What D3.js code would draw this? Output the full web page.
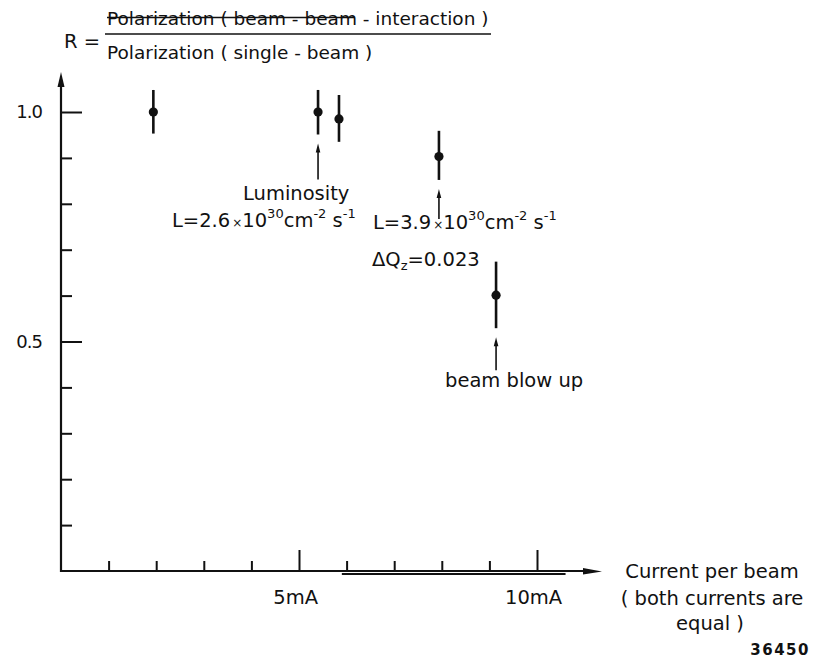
<!DOCTYPE html>
<html>
<head>
<meta charset="utf-8">
<script src="https://cdn.jsdelivr.net/npm/d3@7"></script>
<style>
  html, body { margin: 0; padding: 0; background: #fff; }
  svg { display: block; }
  text { font-family: "DejaVu Sans", sans-serif; fill: #111; }
</style>
</head>
<body>
<svg id="chart" width="815" height="665"></svg>
<script>
// Beam current per beam (mA) for each measurement
const current = [1.94, 5.40, 5.84, 7.94, 9.14];
// Polarization ratio R and its error range
const ratio   = [1.000, 1.000, 0.985, 0.903, 0.601];
const errLow  = [0.953, 0.951, 0.935, 0.852, 0.529];
const errHigh = [1.048, 1.048, 1.037, 0.959, 0.674];

// Axis ticks
const yMinorTicks = [0.1, 0.2, 0.3, 0.4, 0.6, 0.7, 0.8, 0.9];
const yMajorTicks = [0.5, 1.0];
const yTickLabels = ["0.5", "1.0"];
const xMinorTicks = [1, 2, 3, 4, 6, 7, 8, 9];
const xMajorTicks = [5, 10];
const xTickLabels = ["5mA", "10mA"];

const svg = d3.select("#chart");
const ink = "#111";

const x = d3.scaleLinear().domain([0, 10]).range([61, 537]);
const y = d3.scaleLinear().domain([0, 1]).range([571, 112]);

// ---- formula heading ----
const head = svg.append("g").attr("font-size", 18.5);
head.append("text").attr("x", 64).attr("y", 48).attr("font-size", 19.5).text("R =");
head.append("text").attr("x", 107).attr("y", 25)
  .text("Polarization ( beam - beam - interaction )");
head.append("text").attr("x", 107).attr("y", 59)
  .text("Polarization ( single - beam )");
head.append("line").attr("x1", 105).attr("x2", 491).attr("y1", 34).attr("y2", 34)
  .attr("stroke", ink).attr("stroke-width", 1.6);
head.append("line").attr("x1", 107).attr("x2", 354).attr("y1", 17.5).attr("y2", 17.5)
  .attr("stroke", ink).attr("stroke-width", 1.5);

// ---- y axis ----
const yTop = 72;
svg.append("line").attr("x1", x(0)).attr("x2", x(0)).attr("y1", y(0) + 1).attr("y2", yTop + 10)
  .attr("stroke", ink).attr("stroke-width", 2.2);
svg.append("path")
  .attr("d", `M${x(0)},${yTop} L${x(0) - 3.5},${yTop + 15} L${x(0) + 3.5},${yTop + 15} Z`)
  .attr("fill", ink);

const yMinor = svg.append("g").attr("transform", `translate(${x(0)},0)`)
  .call(d3.axisLeft(y).tickValues(yMinorTicks).tickSizeInner(-11).tickSizeOuter(0).tickFormat(""));
const yMajor = svg.append("g").attr("transform", `translate(${x(0)},0)`)
  .call(d3.axisLeft(y).tickValues(yMajorTicks).tickSizeInner(-21).tickSizeOuter(0).tickPadding(19)
    .tickFormat((d, i) => yTickLabels[i]));
[yMinor, yMajor].forEach(g => {
  g.select(".domain").remove();
  g.selectAll(".tick line").attr("stroke", ink).attr("stroke-width", 2);
  g.selectAll(".tick text").attr("font-size", 18).attr("font-family", "DejaVu Sans")
    .attr("fill", ink).attr("letter-spacing", -1);
});

// ---- x axis ----
const xEnd = 602;
svg.append("line").attr("x1", x(0) - 1).attr("x2", xEnd - 12).attr("y1", y(0)).attr("y2", y(0))
  .attr("stroke", ink).attr("stroke-width", 2.2);
svg.append("path")
  .attr("d", `M${xEnd},${y(0) + 0.5} L${xEnd - 19},${y(0) - 3} L${xEnd - 19},${y(0) + 3.5} Z`)
  .attr("fill", ink);
// heavier rule drawn under the right part of the axis
svg.append("line").attr("x1", x(5.9)).attr("x2", x(10.6)).attr("y1", y(0) + 3).attr("y2", y(0) + 3)
  .attr("stroke", ink).attr("stroke-width", 2);

const xMinor = svg.append("g").attr("transform", `translate(0,${y(0)})`)
  .call(d3.axisBottom(x).tickValues(xMinorTicks).tickSizeInner(-10).tickSizeOuter(0).tickFormat(""));
const xMajor = svg.append("g").attr("transform", `translate(0,${y(0)})`)
  .call(d3.axisBottom(x).tickValues(xMajorTicks).tickSizeInner(-21).tickSizeOuter(0).tickPadding(19)
    .tickFormat((d, i) => xTickLabels[i]));
[xMinor, xMajor].forEach(g => {
  g.select(".domain").remove();
  g.selectAll(".tick line").attr("stroke", ink).attr("stroke-width", 2);
  g.selectAll(".tick text").attr("font-size", 19.5).attr("font-family", "DejaVu Sans")
    .attr("fill", ink).attr("dx", "-0.2em");
});

// axis caption
const cap = svg.append("g").attr("font-size", 19.5).attr("text-anchor", "middle");
cap.append("text").attr("x", 712).attr("y", 578).text("Current per beam");
cap.append("text").attr("x", 712).attr("y", 605).text("( both currents are");
cap.append("text").attr("x", 710).attr("y", 630).text("equal )");
svg.append("text").attr("x", 810).attr("y", 655).attr("text-anchor", "end")
  .attr("font-size", 15).attr("letter-spacing", 1.5).attr("font-weight", "bold").text("36450");

// ---- data: error bars and points ----
const pts = current.map((c, i) => ({ c, r: ratio[i], lo: errLow[i], hi: errHigh[i] }));
svg.append("g").selectAll("line").data(pts).join("line")
  .attr("x1", d => x(d.c)).attr("x2", d => x(d.c))
  .attr("y1", d => y(d.hi)).attr("y2", d => y(d.lo))
  .attr("stroke", ink).attr("stroke-width", 2.6);
svg.append("g").selectAll("circle").data(pts).join("circle")
  .attr("cx", d => x(d.c)).attr("cy", d => y(d.r)).attr("r", 4.6).attr("fill", ink);

// ---- annotation arrows (point up at a measurement) ----
function upArrow(i, len) {
  const ax = x(current[i]);
  const tip = y(errLow[i]) + 9;
  svg.append("line").attr("x1", ax).attr("x2", ax).attr("y1", tip + 4).attr("y2", tip + len)
    .attr("stroke", ink).attr("stroke-width", 1.6);
  svg.append("path").attr("d", `M${ax},${tip} L${ax - 2.3},${tip + 9} L${ax + 2.3},${tip + 9} Z`)
    .attr("fill", ink);
}
upArrow(1, 36);
upArrow(3, 30);
upArrow(4, 33);

// ---- annotation text ----
function lumi(g, x0, y0, mant) {
  const t = g.append("text").attr("x", x0).attr("y", y0).attr("font-size", 19.5);
  t.append("tspan").text("L=" + mant);
  t.append("tspan").attr("font-size", 12).attr("dx", 2).text("×");
  t.append("tspan").text("10");
  t.append("tspan").attr("font-size", 13).attr("dy", -9).text("30");
  t.append("tspan").attr("dy", 9).text("cm");
  t.append("tspan").attr("font-size", 13).attr("dy", -9).text("-2");
  t.append("tspan").attr("dy", 9).text(" s");
  t.append("tspan").attr("font-size", 13).attr("dy", -9).text("-1");
}
const ann = svg.append("g");
ann.append("text").attr("x", 243).attr("y", 200).attr("font-size", 19.5).text("Luminosity");
lumi(ann, 172, 227, "2.6");
lumi(ann, 373, 229, "3.9");
const dq = ann.append("text").attr("x", 372).attr("y", 266).attr("font-size", 19.5);
dq.append("tspan").text("ΔQ");
dq.append("tspan").attr("font-size", 13).attr("dy", 4).text("z");
dq.append("tspan").attr("dy", -4).text("=0.023");
ann.append("text").attr("x", 445).attr("y", 387).attr("font-size", 19.5).text("beam blow up");
</script>
</body>
</html>
